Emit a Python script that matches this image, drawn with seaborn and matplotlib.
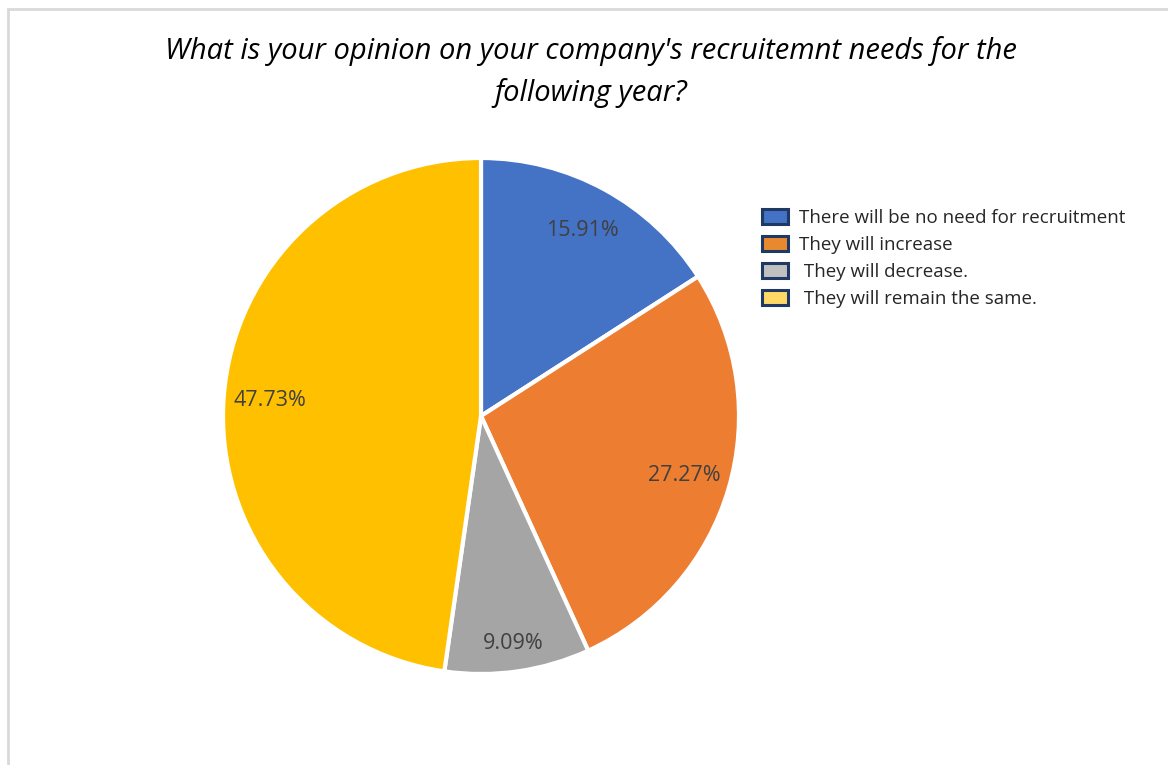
import matplotlib
matplotlib.use("Agg")
import matplotlib.pyplot as plt
from matplotlib.patches import Patch, Rectangle
import numpy as np
import seaborn as sns

# Survey answers and their shares (%)
categories = [
    "There will be no need for recruitment",
    "They will increase",
    " They will decrease.",
    " They will remain the same.",
]
shares = [15.91, 27.27, 9.09, 47.73]
pie_colors = ["#4472C4", "#ED7D31", "#A5A5A5", "#FFC000"]
legend_fills = ["#4472C4", "#E8892F", "#C0C0C0", "#FFD966"]
title = "What is your opinion on your company's recruitemnt needs for the\nfollowing year?"

sns.set_theme(style="white")
plt.rcParams["font.family"] = ["Open Sans", "DejaVu Sans"]

W, H, DPI = 1168, 765, 100
fig = plt.figure(figsize=(W / DPI, H / DPI), dpi=DPI)
fig.patch.set_facecolor("white")

# chart frame (runs off the right and bottom edges)
fig.add_artist(Rectangle((7.5 / W, -0.1), 1.2, 1.1 - 9.5 / H, transform=fig.transFigure,
                         fill=False, edgecolor="#D9D9D9", linewidth=2))

# pie axes: centre (481, 416) px, radius ~258 px
r = 258
cx, cy = 481, 416
ax = fig.add_axes([(cx - r) / W, 1 - (cy + r) / H, 2 * r / W, 2 * r / H])

wedges, texts, autotexts = ax.pie(
    shares,
    colors=pie_colors,
    startangle=90,
    counterclock=False,
    autopct=lambda p: f"{p:.2f}%",
    pctdistance=0.82,
    wedgeprops=dict(edgecolor="white", linewidth=3),
    textprops=dict(fontsize=15.5, color="#404040"),
)
# small grey slice: its label sits a bit further out
gx, gy = autotexts[2].get_position()
autotexts[2].set_position((gx * 0.89 / 0.82, gy * 0.89 / 0.82))
ax.set_xlim(-1, 1)
ax.set_ylim(-1, 1)
ax.set_aspect("equal")
ax.axis("off")

fig.text(591 / W, 1 - 72 / H, title, ha="center", va="center", fontsize=21,
         style="italic", color="#000000", linespacing=1.55)

handles = [Patch(facecolor=c, edgecolor="#1F3864", linewidth=2.2) for c in legend_fills]
fig.legend(handles, categories, loc="upper left", bbox_to_anchor=(749 / W, 1 - 196 / H),
           frameon=False, fontsize=13.5, handlelength=1.4, handleheight=0.85,
           handletextpad=0.55, labelspacing=0.47, borderpad=0.2)

fig.savefig("out.png", dpi=DPI, facecolor="white")
